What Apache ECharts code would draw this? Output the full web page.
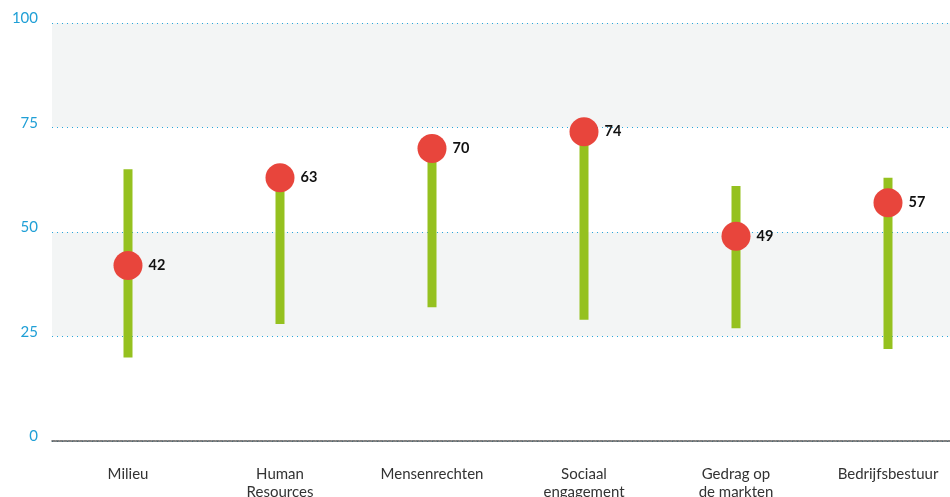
<!DOCTYPE html>
<html>
<head>
<meta charset="utf-8">
<script src="https://cdn.jsdelivr.net/npm/echarts@6/dist/echarts.min.js"></script>
<style>
  html, body { margin: 0; padding: 0; background: #fff; }
  #chart { width: 950px; height: 497px; }
</style>
</head>
<body>
<div id="chart"></div>
<script>
// categorieën en waarden
const categories = ['Milieu', 'Human\nResources', 'Mensenrechten', 'Sociaal\nengagement', 'Gedrag op\nde markten', 'Bedrijfsbestuur']
const lowValues = [20, 28, 32, 29, 27, 22]
const highValues = [65, 63, 70, 74, 61, 63]
const scores = [42, 63, 70, 74, 49, 57]
const yTicks = [0, 25, 50, 75, 100]

const myChart = echarts.init(document.getElementById('chart'))

const options = {
  animation: false,
  textStyle: { fontFamily: 'Lato' },
  // grid loopt iets voorbij de rechterrand
  grid: {
    top: 23,
    left: 52,
    width: 912,
    height: 418,
    containLabel: false,
    outerBoundsMode: 'none',
  },
  xAxis: {
    type: 'category',
    data: categories,
    axisTick: { show: false },
    axisLine: {
      lineStyle: { color: '#555', width: 1.5, type: [3, 1] },
    },
    axisLabel: {
      color: '#333',
      fontSize: 15,
      margin: 24,
      lineHeight: 18,
      interval: 0,
    },
  },
  yAxis: {
    type: 'value',
    min: yTicks[0],
    max: yTicks[yTicks.length - 1],
    interval: 25,
    axisLine: { show: false },
    axisTick: { show: false },
    axisLabel: {
      color: '#1f9fd6',
      fontSize: 15,
      margin: 14,
      verticalAlign: 'bottom',
      padding: [0, 0, -3, 0],
    },
    splitLine: {
      lineStyle: { color: '#2aa6da', type: [1, 4], width: 1 },
    },
    splitArea: {
      show: true,
      areaStyle: { color: ['#ffffff', '#f3f5f5'] },
    },
  },
  series: [
    {
      // onzichtbare basis
      type: 'bar',
      stack: 'range',
      data: lowValues,
      barWidth: 9,
      itemStyle: { color: 'transparent' },
      silent: true,
    },
    {
      type: 'bar',
      stack: 'range',
      data: highValues.map((h, i) => h - lowValues[i]),
      barWidth: 9,
      itemStyle: { color: '#95c11f' },
    },
    {
      type: 'scatter',
      data: scores,
      symbolSize: 29,
      z: 5,
      itemStyle: { color: '#e8453c', opacity: 1 },
      label: {
        show: true,
        position: 'right',
        distance: 6,
        color: '#111',
        fontWeight: 'bold',
        fontSize: 14.5,
      },
    },
  ],
}

myChart.setOption(options)
</script>
</body>
</html>
